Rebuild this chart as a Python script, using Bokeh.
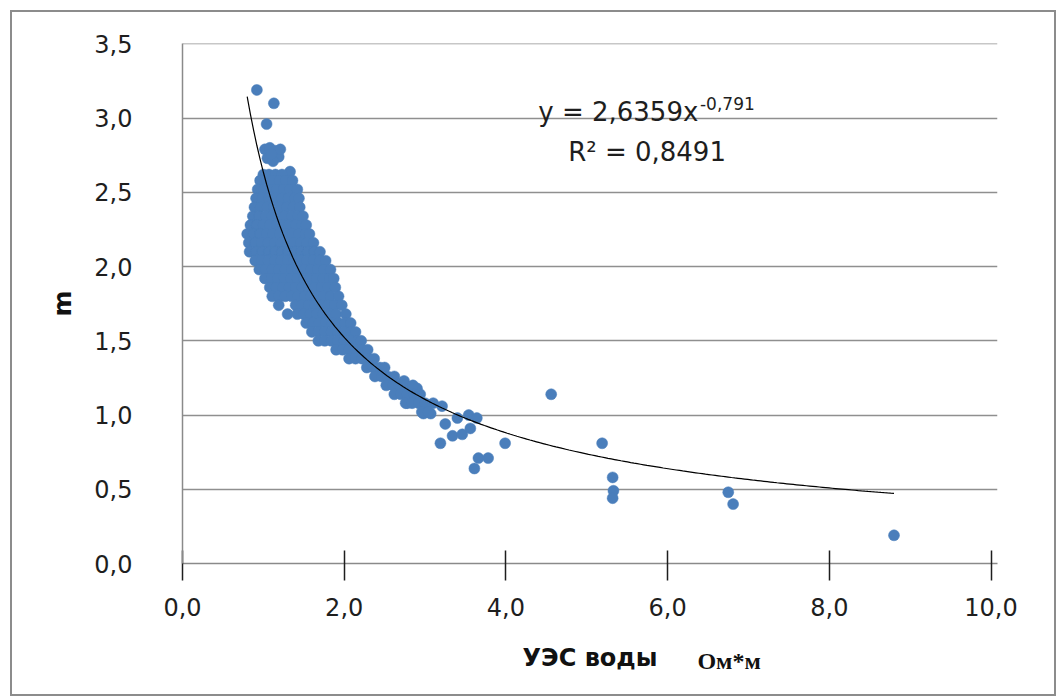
from bokeh.plotting import figure
from bokeh.models import Label, FixedTicker, ColumnDataSource, LinearAxis
from bokeh.embed import file_html
from bokeh.resources import INLINE
import numpy as np

# ---- data ----
x_sparse = [0.92, 1.13, 1.04, 1.02, 1.08, 1.15, 1.19, 1.05, 1.12, 1.21, 1.10, 1.33,
            2.74, 2.90, 2.78, 2.98, 3.07, 3.21, 3.25, 3.19, 3.40, 3.54, 3.64, 3.34,
            3.46, 3.56, 3.66, 3.78, 3.61, 3.99, 4.56, 5.19, 5.32, 5.33, 5.32, 6.75,
            6.81, 8.80]
y_sparse = [3.19, 3.10, 2.96, 2.79, 2.80, 2.78, 2.74, 2.73, 2.71, 2.79, 2.76, 2.64,
            1.23, 1.18, 1.08, 1.01, 1.01, 1.06, 0.94, 0.81, 0.98, 1.00, 0.98, 0.86,
            0.87, 0.91, 0.71, 0.71, 0.64, 0.81, 1.14, 0.81, 0.58, 0.49, 0.44, 0.48,
            0.40, 0.19]

# dense cloud, read row by row (m value : УЭС values)
cloud_rows_m = [2.62, 2.58, 2.52, 2.46, 2.40, 2.34, 2.28, 2.22, 2.16, 2.10, 2.04,
                1.98, 1.92, 1.86, 1.80, 1.74, 1.68, 1.62, 1.56, 1.50, 1.44, 1.38,
                1.32, 1.26, 1.20, 1.14, 1.08, 1.02]
cloud_rows_x = [
    [1.00, 1.07, 1.15, 1.23],
    [0.96, 1.04, 1.12, 1.20, 1.28, 1.36],
    [0.93, 1.01, 1.09, 1.17, 1.25, 1.33, 1.42],
    [0.91, 0.99, 1.07, 1.15, 1.23, 1.31, 1.39, 1.44],
    [0.89, 0.97, 1.05, 1.13, 1.21, 1.29, 1.37, 1.45],
    [0.87, 0.95, 1.03, 1.11, 1.19, 1.27, 1.35, 1.43, 1.49],
    [0.84, 0.92, 1.00, 1.08, 1.16, 1.24, 1.32, 1.40, 1.48, 1.53],
    [0.80, 0.88, 0.96, 1.04, 1.12, 1.20, 1.28, 1.36, 1.44, 1.52, 1.57],
    [0.82, 0.90, 0.98, 1.06, 1.14, 1.22, 1.30, 1.38, 1.46, 1.54, 1.62],
    [0.83, 0.91, 0.99, 1.07, 1.15, 1.23, 1.31, 1.39, 1.47, 1.55, 1.63, 1.70],
    [0.90, 0.98, 1.06, 1.14, 1.22, 1.30, 1.38, 1.46, 1.54, 1.62, 1.70, 1.77],
    [0.95, 1.03, 1.11, 1.19, 1.27, 1.35, 1.43, 1.51, 1.59, 1.67, 1.75, 1.83],
    [1.02, 1.10, 1.18, 1.26, 1.34, 1.42, 1.50, 1.58, 1.66, 1.74, 1.82, 1.87],
    [1.08, 1.16, 1.24, 1.32, 1.40, 1.48, 1.56, 1.64, 1.72, 1.80, 1.89],
    [1.11, 1.19, 1.27, 1.35, 1.43, 1.51, 1.59, 1.67, 1.75, 1.83, 1.93],
    [1.19, 1.40, 1.48, 1.56, 1.64, 1.72, 1.80, 1.88, 1.97],
    [1.30, 1.42, 1.50, 1.58, 1.66, 1.74, 1.82, 1.90, 2.02],
    [1.53, 1.61, 1.69, 1.77, 1.85, 1.93, 2.01, 2.08],
    [1.60, 1.68, 1.76, 1.84, 1.92, 2.00, 2.08, 2.14],
    [1.68, 1.76, 1.84, 1.92, 2.00, 2.08, 2.16, 2.21],
    [1.90, 1.98, 2.06, 2.14, 2.22, 2.29],
    [2.06, 2.14, 2.22, 2.30, 2.37],
    [2.28, 2.36, 2.44, 2.50],
    [2.38, 2.46, 2.54, 2.62],
    [2.52, 2.60, 2.68, 2.76, 2.85],
    [2.62, 2.70, 2.78, 2.86, 2.94],
    [2.76, 2.84, 2.92, 3.00, 3.10],
    [2.96, 3.04],
]

# trend line coefficients shown on the chart
trend_a = 2.6359
trend_b = -0.791

x_ticks = [0, 2, 4, 6, 8, 10]
x_tick_labels = ["0,0", "2,0", "4,0", "6,0", "8,0", "10,0"]
y_ticks = [0, 0.5, 1.0, 1.5, 2.0, 2.5, 3.0, 3.5]
y_tick_labels = ["0,0", "0,5", "1,0", "1,5", "2,0", "2,5", "3,0", "3,5"]
unit_pos = 6.76

# ---- build ----
xs_all = list(x_sparse)
ys_all = list(y_sparse)
for m, row in zip(cloud_rows_m, cloud_rows_x):
    for xv in row:
        xs_all.append(xv)
        ys_all.append(m)
src = ColumnDataSource(dict(x=xs_all, y=ys_all))

FONT = "DejaVu Sans"

p = figure(width=1046, height=686, x_range=(0, 10.08), y_range=(0, 3.503),
           output_backend="svg", toolbar_location=None,
           min_border_left=170, min_border_right=61, min_border_top=31,
           min_border_bottom=135, background_fill_color="white",
           border_fill_color="white")
p.margin = (10, 0, 0, 10)
p.styles = {"border": "2px solid #8c8c8c"}
p.outline_line_color = None

p.xgrid.grid_line_color = None
p.ygrid.grid_line_color = "#8f8f8f"
p.ygrid.grid_line_width = 1.5
p.ygrid.ticker = FixedTicker(ticks=y_ticks)

p.xaxis.ticker = FixedTicker(ticks=x_ticks)
p.xaxis.major_label_overrides = {t: l for t, l in zip(x_ticks, x_tick_labels)}
p.yaxis.ticker = FixedTicker(ticks=y_ticks)
p.yaxis.major_label_overrides = {t: l for t, l in zip(y_ticks, y_tick_labels)}

for ax in (p.xaxis, p.yaxis):
    ax.axis_line_color = "#8a8a8a"
    ax.axis_line_width = 1.5
    ax.minor_tick_line_color = None
    ax.major_label_text_font = FONT
    ax.major_label_text_font_size = "24px"
    ax.major_label_text_color = "#1e1e1e"
    ax.axis_label_text_font = FONT
    ax.axis_label_text_font_style = "bold"
    ax.axis_label_text_color = "#111111"

p.xaxis.major_tick_line_color = "#1e1e1e"
p.xaxis.major_tick_line_width = 1.5
p.xaxis.major_tick_in = 13
p.xaxis.major_tick_out = 17
p.xaxis.major_label_standoff = 17
p.xaxis.axis_label = "УЭС воды"
p.xaxis.axis_label_text_font_size = "24px"
p.xaxis.axis_label_standoff = 25

p.yaxis.major_tick_line_color = None
p.yaxis.major_tick_in = 0
p.yaxis.major_tick_out = 0
p.yaxis.major_label_standoff = 50
p.yaxis.axis_label = "m"
p.yaxis.axis_label_text_font_size = "25px"
p.yaxis.axis_label_standoff = 14

# unit "Ом*м" placed beside the x title
unit_axis = LinearAxis(ticker=FixedTicker(ticks=[unit_pos]),
                       major_label_overrides={unit_pos: "Ом*м"},
                       axis_line_color=None, major_tick_line_color=None,
                       minor_tick_line_color=None, major_tick_in=0,
                       major_tick_out=0, major_label_standoff=-27,
                       major_label_text_font="Liberation Serif",
                       major_label_text_font_style="bold",
                       major_label_text_font_size="24px",
                       major_label_text_color="#111111")
p.add_layout(unit_axis, "below")

p.scatter("x", "y", source=src, size=11, fill_color="#4a7ebb",
          line_color="#4a7ebb", line_width=0.5)

tx = np.linspace(min(xs_all), max(xs_all), 200)
ty = trend_a * tx ** trend_b
p.line(tx, ty, line_color="black", line_width=1.2)

# equation and R²
p.add_layout(Label(x=4.40, y=3.04, text="y = 2,6359x", text_font=FONT,
                   text_font_size="26px", text_color="#1e1e1e",
                   text_baseline="middle", text_align="left"))
p.add_layout(Label(x=6.40, y=3.10, text="-0,791", text_font=FONT,
                   text_font_size="17px", text_color="#1e1e1e",
                   text_baseline="middle", text_align="left"))
p.add_layout(Label(x=4.77, y=2.77, text="R² = 0,8491", text_font=FONT,
                   text_font_size="26px", text_color="#1e1e1e",
                   text_baseline="middle", text_align="left"))

open("out.html", "w").write(file_html(p, INLINE))
